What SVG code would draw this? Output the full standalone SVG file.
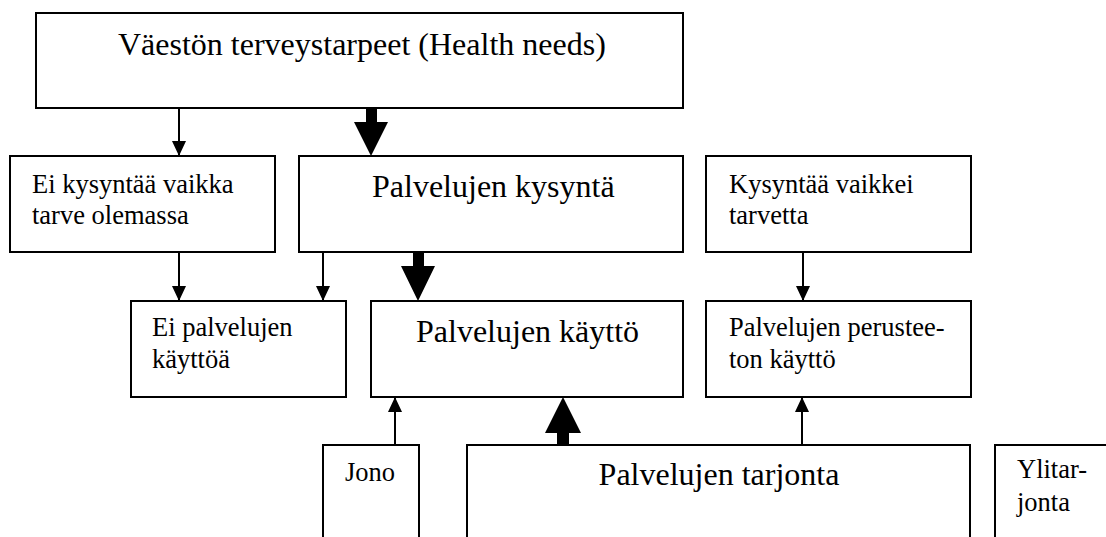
<svg xmlns="http://www.w3.org/2000/svg" width="1106" height="537" viewBox="0 0 1106 537">
<defs>
<style>
.box{fill:#fff;stroke:#000;stroke-width:2}
.ln{stroke:#000;stroke-width:2;fill:none}
.thick{fill:#000;stroke:none}
text{font-family:'Liberation Serif','DejaVu Serif',serif}
</style>
<marker id="ah" markerWidth="15" markerHeight="14" refX="15" refY="7" orient="auto" markerUnits="userSpaceOnUse">
<path d="M0,0 L15,7 L0,14 Z" fill="#000"/>
</marker>
</defs>
<rect width="1106" height="537" fill="#fff"/>
<g fill="#000">
<g id="health-needs">
<rect class="box" x="36" y="13" width="647" height="95"/>
<text font-size="32" x="118" y="55">Väestön terveystarpeet (Health needs)</text>
</g>
<g id="ei-kysyntaa">
<rect class="box" x="10" y="156" width="265" height="96"/>
<text font-size="26.5" x="32" y="193">Ei kysyntää vaikka</text>
<text font-size="26.5" x="32" y="224">tarve olemassa</text>
</g>
<g id="kysynta">
<rect class="box" x="299" y="156" width="384" height="96"/>
<text font-size="32" x="372" y="197">Palvelujen kysyntä</text>
</g>
<g id="kysyntaa-vaikkei">
<rect class="box" x="706" y="156" width="265" height="96"/>
<text font-size="26.5" x="729" y="193">Kysyntää vaikkei</text>
<text font-size="26.5" x="729" y="224">tarvetta</text>
</g>
<g id="ei-kaytto">
<rect class="box" x="131" y="301" width="215" height="96"/>
<text font-size="26.5" x="152" y="336">Ei palvelujen</text>
<text font-size="26.5" x="152" y="368">käyttöä</text>
</g>
<g id="kaytto">
<rect class="box" x="371" y="301" width="312" height="96"/>
<text font-size="32" x="416" y="342">Palvelujen käyttö</text>
</g>
<g id="perusteeton">
<rect class="box" x="706" y="301" width="265" height="96"/>
<text font-size="26.5" x="729" y="336">Palvelujen perustee-</text>
<text font-size="26.5" x="729" y="368">ton käyttö</text>
</g>
<g id="jono">
<rect class="box" x="323" y="445" width="96" height="120"/>
<text font-size="26.5" x="345" y="481">Jono</text>
</g>
<g id="tarjonta">
<rect class="box" x="467" y="445" width="503" height="120"/>
<text font-size="32" x="719" y="485" text-anchor="middle">Palvelujen tarjonta</text>
</g>
<g id="ylitarjonta">
<rect class="box" x="995" y="445" width="140" height="120"/>
<text font-size="26.5" x="1017" y="478">Ylitar-</text>
<text font-size="26.5" x="1017" y="511">jonta</text>
</g>
</g>
<g id="connectors">
<line class="ln" x1="179" y1="108" x2="179" y2="156" marker-end="url(#ah)"/>
<polygon class="thick" points="366,108 377,108 377,122 388,122 371,156 354,122 366,122"/>
<line class="ln" x1="179" y1="252" x2="179" y2="301" marker-end="url(#ah)"/>
<line class="ln" x1="323" y1="252" x2="323" y2="301" marker-end="url(#ah)"/>
<polygon class="thick" points="413,252 424,252 424,266 435,266 418,301 401,266 413,266"/>
<line class="ln" x1="803" y1="252" x2="803" y2="301" marker-end="url(#ah)"/>
<line class="ln" x1="395" y1="445" x2="395" y2="397" marker-end="url(#ah)"/>
<polygon class="thick" points="557,445 569,445 569,433 581,433 563,397 545,433 557,433"/>
<line class="ln" x1="802" y1="445" x2="802" y2="397" marker-end="url(#ah)"/>
</g>
</svg>
